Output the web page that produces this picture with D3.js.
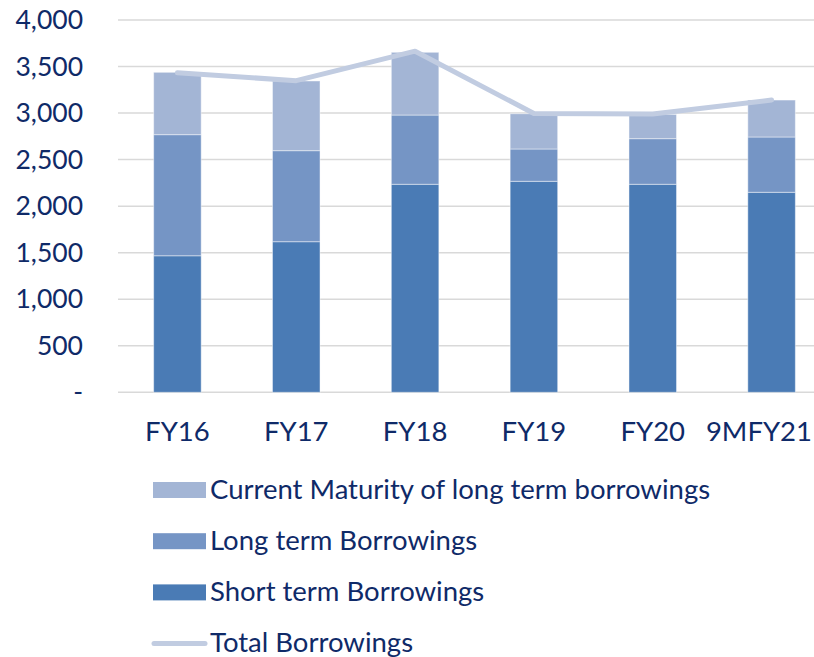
<!DOCTYPE html>
<html><head><meta charset="utf-8">
<script src="https://cdn.jsdelivr.net/npm/d3@7"></script>
<style>body{margin:0;background:#fff;} svg{display:block;font-family:Lato, "Open Sans", sans-serif;}</style>
</head><body><svg id="c" width="814" height="657"></svg>
<script>
const categories = ["FY16","FY17","FY18","FY19","FY20","9MFY21"];
const shortTerm = [1467, 1618, 2235, 2267, 2235, 2149];
const longTerm = [1301, 978, 744, 347, 490, 594];
const currentMaturity = [670, 749, 674, 379, 261, 397];
const totalBorrowings = [3433, 3348, 3665, 2995, 2990, 3140];
const yTicks = [0, 500, 1000, 1500, 2000, 2500, 3000, 3500, 4000];
const seriesNames = ["Short term Borrowings","Long term Borrowings","Current Maturity of long term borrowings"];
const lineName = "Total Borrowings";

const colors = {"Short term Borrowings":"#4a7bb5","Long term Borrowings":"#7595c5","Current Maturity of long term borrowings":"#a3b5d5"};
const lineColor = "#c1cce1";
const textColor = "#0f2a68";

const svg = d3.select("#c");
const x = d3.scaleBand().domain(categories).range([118, 831]).paddingInner(0.6).paddingOuter(0.3);
const y = d3.scaleLinear().domain([0, 4000]).range([392.3, 20]);

// gridlines
svg.append("g").selectAll("line").data(yTicks).join("line")
  .attr("x1", 118).attr("x2", 814)
  .attr("y1", d => y(d)).attr("y2", d => y(d))
  .attr("stroke", "#d9d9d9").attr("stroke-width", 1.5);

// y axis labels
const yAxis = d3.axisLeft(y).tickValues(yTicks).tickSize(0).tickPadding(0)
  .tickFormat(d => d === 0 ? "-" : d3.format(",")(d));
const ya = svg.append("g").attr("transform", "translate(83,0)").call(yAxis);
ya.select(".domain").remove();
ya.selectAll("text").attr("fill", textColor).attr("font-size", 26.5).attr("font-family", "Lato, sans-serif");

// stacked bars
const rows = categories.map((c, i) => ({cat: c,
  "Short term Borrowings": shortTerm[i],
  "Long term Borrowings": longTerm[i],
  "Current Maturity of long term borrowings": currentMaturity[i]}));
const stack = d3.stack().keys(seriesNames)(rows);
svg.append("g").selectAll("g").data(stack).join("g")
  .attr("fill", d => colors[d.key])
  .selectAll("rect").data(d => d).join("rect")
  .attr("x", d => x(d.data.cat)).attr("width", x.bandwidth())
  .attr("y", d => y(d[1])).attr("height", d => y(d[0]) - y(d[1]))
  .attr("stroke", "rgba(255,255,255,0.45)").attr("stroke-width", 1);

// total line
const line = d3.line().x((d, i) => x(categories[i]) + x.bandwidth() / 2).y(d => y(d));
svg.append("path").datum(totalBorrowings).attr("d", line)
  .attr("fill", "none").attr("stroke", lineColor).attr("stroke-width", 5)
  .attr("stroke-linecap", "round").attr("stroke-linejoin", "round");

// x axis labels
const xAxis = d3.axisBottom(x).tickSize(0).tickPadding(0);
const xa = svg.append("g").attr("transform", "translate(0,421)").call(xAxis);
xa.select(".domain").remove();
xa.selectAll("text").attr("fill", textColor).attr("font-size", 27.5).attr("font-family", "Lato, sans-serif");
// keep the last label inside the picture
xa.selectAll("text").each(function() {
  const bb = this.getBBox();
  const tick = this.parentNode;
  const tx = +tick.getAttribute("transform").match(/translate\(([-\d.]+)/)[1];
  const right = tx + bb.x + bb.width;
  if (right > 812) d3.select(this).attr("x", 812 - right);
});

// legend
const legendItems = [
  {name: "Current Maturity of long term borrowings", type: "rect"},
  {name: "Long term Borrowings", type: "rect"},
  {name: "Short term Borrowings", type: "rect"},
  {name: lineName, type: "line"}];
const lg = svg.append("g").selectAll("g").data(legendItems).join("g")
  .attr("transform", (d, i) => `translate(0,${490 + i * 51.2})`);
lg.filter(d => d.type === "rect").append("rect")
  .attr("x", 153).attr("y", -8).attr("width", 53).attr("height", 16)
  .attr("fill", d => colors[d.name]);
lg.filter(d => d.type === "line").append("line")
  .attr("x1", 154).attr("x2", 205).attr("y1", 0).attr("y2", 0)
  .attr("stroke", lineColor).attr("stroke-width", 5).attr("stroke-linecap", "round");
lg.append("text").attr("x", 210).attr("y", 8.5)
  .attr("fill", textColor).attr("font-size", 27.5).text(d => d.name);
</script></body></html>
